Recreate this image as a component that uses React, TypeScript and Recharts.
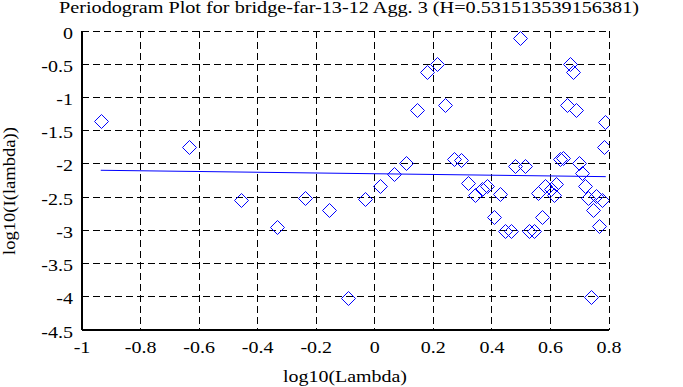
import React from 'react';
import { ScatterChart, Scatter, XAxis, YAxis, CartesianGrid } from 'recharts';

const lambdaLog = [-0.936, -0.635, -0.456, -0.335, -0.238, -0.157, -0.091, -0.032, 0.019, 0.065, 0.106, 0.143, 0.179, 0.212, 0.241, 0.269, 0.296, 0.32, 0.344, 0.367, 0.385, 0.406, 0.427, 0.446, 0.464, 0.479, 0.497, 0.513, 0.528, 0.543, 0.556, 0.57, 0.582, 0.601, 0.613, 0.618, 0.634, 0.644, 0.655, 0.667, 0.676, 0.687, 0.698, 0.709, 0.718, 0.727, 0.737, 0.746, 0.756, 0.765, 0.777, 0.782, 0.787];
const periodLog = [-1.36, -1.751, -2.547, -2.943, -2.512, -2.688, -4.021, -2.523, -2.339, -2.156, -1.989, -1.195, -0.616, -0.494, -1.113, -1.929, -1.938, -2.287, -2.464, -2.381, -2.332, -2.8, -2.449, -3.003, -3.003, -2.027, -0.102, -2.027, -3.003, -3.003, -2.444, -2.8, -2.339, -2.384, -2.474, -2.297, -1.931, -1.916, -1.116, -0.492, -0.623, -1.186, -1.991, -2.141, -2.339, -2.509, -4.006, -2.692, -2.485, -2.937, -2.547, -1.742, -1.368];
const fitX = [-0.936, 0.789];
const fitY = [-2.096, -2.192];
const xTicks = [-1, -0.8, -0.6, -0.4, -0.2, 0, 0.2, 0.4, 0.6, 0.8];
const yTicks = [0, -0.5, -1, -1.5, -2, -2.5, -3, -3.5, -4, -4.5];

const points = lambdaLog.map((x, i) => ({ x, y: periodLog[i] }));
const fit = fitX.map((x, i) => ({ x, y: fitY[i] }));

const FONT = 'Liberation Serif';
const FS = 16;
const STRETCH = 1.25;
const BLUE = '#0000ff';

const Diamond = (props: any) => {
  const { cx, cy } = props;
  if (cx == null || cy == null) return <g />;
  const r = 7;
  const x = Math.round(cx) + 0.5;
  const y = Math.round(cy) + 0.5;
  return (
    <polygon
      points={`${x},${y - r} ${x + r},${y} ${x},${y + r} ${x - r},${y}`}
      fill="none"
      stroke={BLUE}
      strokeWidth={1}
    />
  );
};

const NoShape = () => <g />;

const XTick = (props: any) => {
  const { x, y, payload } = props;
  return (
    <text transform={`translate(${x},${y}) scale(${STRETCH},1)`} textAnchor="middle" dy="0.71em" fontFamily={FONT} fontSize={FS} fill="#000">
      {String(payload.value)}
    </text>
  );
};

const YTick = (props: any) => {
  const { x, y, payload } = props;
  return (
    <text transform={`translate(${x},${y + 2}) scale(${STRETCH},1)`} textAnchor="end" dy="0.35em" fontFamily={FONT} fontSize={FS} fill="#000">
      {String(payload.value)}
    </text>
  );
};

const frame = { stroke: '#000', strokeWidth: 2 };

export default function App() {
  return (
    <div style={{ position: 'absolute', left: 0, top: 0, width: 683, height: 387, background: '#fff' }}>
      <ScatterChart width={683} height={387} margin={{ top: 31, right: 74, bottom: 0, left: 0 }}>
        <CartesianGrid stroke="#000" strokeDasharray="7 4" strokeWidth={1} shapeRendering="crispEdges" />
        <XAxis
          type="number"
          dataKey="x"
          domain={[-1, 0.8]}
          ticks={xTicks}
          interval={0}
          height={57}
          tickSize={0}
          tickMargin={12}
          tickLine={false}
          axisLine={frame}
          tick={XTick}
          allowDataOverflow
        />
        <YAxis
          type="number"
          dataKey="y"
          domain={[-4.5, 0]}
          ticks={yTicks}
          interval={0}
          width={82}
          tickSize={0}
          tickMargin={9}
          tickLine={false}
          axisLine={frame}
          tick={YTick}
          allowDataOverflow
        />
        <XAxis xAxisId="top" orientation="top" type="number" domain={[-1, 0.8]} ticks={xTicks} interval={0} mirror height={0} tick={false} tickSize={6} tickLine={frame} axisLine={frame} allowDataOverflow />
        <XAxis xAxisId="bot2" orientation="bottom" type="number" domain={[-1, 0.8]} ticks={xTicks} interval={0} mirror height={0} tick={false} tickSize={6} tickLine={frame} axisLine={false} allowDataOverflow />
        <YAxis yAxisId="right" orientation="right" type="number" domain={[-4.5, 0]} ticks={yTicks} interval={0} mirror width={0} tick={false} tickSize={6} tickLine={frame} axisLine={frame} allowDataOverflow />
        <YAxis yAxisId="left2" orientation="left" type="number" domain={[-4.5, 0]} ticks={yTicks} interval={0} mirror width={0} tick={false} tickSize={6} tickLine={frame} axisLine={false} allowDataOverflow />
        <Scatter data={fit} line={{ stroke: BLUE, strokeWidth: 1 }} shape={NoShape} isAnimationActive={false} legendType="none" />
        <Scatter data={points} shape={Diamond} isAnimationActive={false} legendType="none" />
      </ScatterChart>
      <svg width={683} height={387} style={{ position: 'absolute', left: 0, top: 0, pointerEvents: 'none' }}>
        <text x={349} y={13} textAnchor="middle" fontFamily={FONT} fontSize={FS} fill="#000" textLength={580} lengthAdjust="spacingAndGlyphs">
          Periodogram Plot for bridge-far-13-12 Agg. 3 (H=0.531513539156381)
        </text>
        <text x={345} y={382} textAnchor="middle" fontFamily={FONT} fontSize={FS} fill="#000" textLength={124} lengthAdjust="spacingAndGlyphs">
          log10(Lambda)
        </text>
        <text x={15} y={191} textAnchor="middle" fontFamily={FONT} fontSize={FS} fill="#000" transform="rotate(-90 15 191)" textLength={128} lengthAdjust="spacingAndGlyphs">
          log10(I(lambda))
        </text>
      </svg>
    </div>
  );
}
